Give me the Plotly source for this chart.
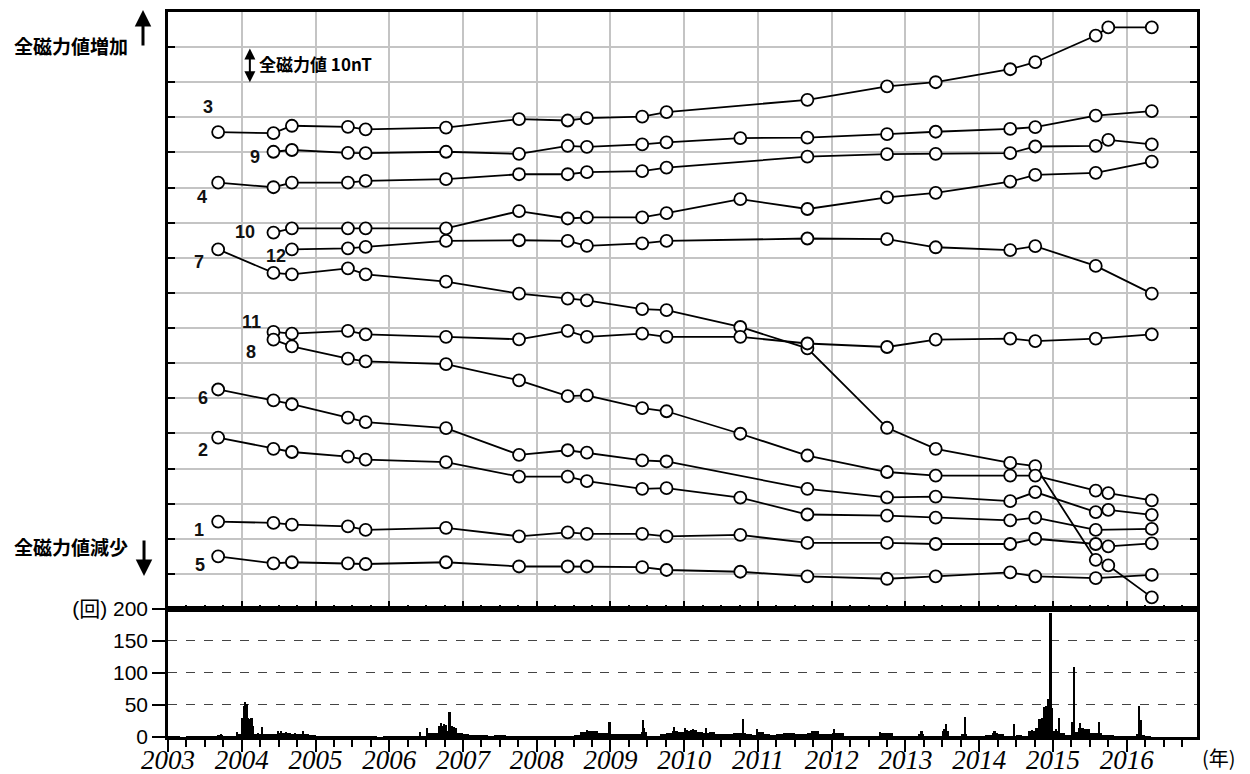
import plotly.graph_objects as go

# ---------------- data ----------------
# survey epochs (decimal years)
DATES = [2003.68, 2004.43, 2004.68, 2005.44, 2005.68, 2006.77, 2007.76, 2008.42, 2008.68,
         2009.43, 2009.76, 2010.76, 2011.67, 2012.75, 2013.41, 2014.42, 2014.76, 2015.58,
         2015.75, 2016.34]

# relative total magnetic intensity (nT, arbitrary offset) per station; None = not observed
S3 = [135.8, 135.5, 137.6, 137.3, 136.6, 137.1, 139.5, 139.1, 139.8, 140.2, 141.5, None, 145.0, 148.8, 150.0, 153.7, 155.7, 163.3, 165.6, 165.6]
S9 = [None, 130.2, 130.7, 129.9, 129.8, 130.2, 129.6, 131.9, 131.6, 132.3, 132.9, 134.1, 134.2, 135.2, 135.9, 136.7, 137.2, 140.5, None, 141.8]
S4 = [121.4, 120.1, 121.4, 121.4, 121.9, 122.4, 123.8, 123.8, 124.4, 124.7, 125.7, None, 128.8, 129.5, 129.6, 129.8, 131.7, 131.9, 133.6, 132.3]
S10 = [None, 107.2, 108.4, 108.4, 108.4, 108.4, 113.3, 111.2, 111.5, 111.5, 112.7, 116.7, 113.9, 117.2, 118.5, 121.7, 123.6, 124.2, None, 127.4]
S12 = [None, None, 102.4, 102.7, 103.1, 104.8, 105.0, 104.8, 103.4, 104.1, 104.8, None, 105.5, 105.3, 103.0, 102.2, 103.3, 97.7, None, 89.8]
S7 = [102.4, 95.7, 95.3, 97.0, 95.3, 93.2, 89.8, 88.4, 87.9, 85.4, 85.1, 80.3, 74.2, 51.6, 45.6, 41.6, 40.7, 14.0, 12.4, 3.3]
S11 = [None, 78.9, 78.4, 79.2, 78.2, 77.5, 76.8, 79.2, 77.5, 78.4, 77.5, 77.5, 75.6, 74.6, 76.7, 77.0, 76.3, 77.0, None, 78.2]
S8 = [None, 76.7, 74.8, 71.3, 70.5, 69.7, 65.1, 60.6, 60.8, 57.2, 56.3, 49.9, 43.7, 39.0, 38.0, 38.0, 38.0, 33.7, 33.0, 30.9]
S6 = [62.5, 59.4, 58.3, 54.5, 53.2, 51.5, 43.9, 45.2, 44.5, 42.3, 42.0, None, 34.2, 31.8, 32.0, 30.7, 33.3, 27.6, 28.2, 26.8]
S2 = [48.8, 45.6, 44.7, 43.4, 42.5, 41.8, 37.7, 37.7, 36.4, 34.2, 34.4, 31.7, 26.9, 26.6, 26.0, 25.2, 26.0, 22.5, None, 22.8]
S1 = [24.9, 24.5, 24.0, 23.5, 22.5, 23.1, 20.7, 21.8, 21.4, 21.4, 20.7, 21.1, 18.8, 18.8, 18.5, 18.5, 20.0, 18.5, 17.8, 18.7]
S5 = [15.0, 13.0, 13.3, 13.0, 12.8, 13.3, 12.1, 12.1, 12.1, 11.9, 11.1, 10.6, 9.3, 8.6, 9.3, 10.4, 9.3, 8.8, None, 9.7]

SERIES_NAMES = ["3", "9", "4", "10", "12", "7", "11", "8", "6", "2", "1", "5"]

# earthquake counts: monthly background level per year
BG_2003 = [1, 1, 0, 1, 1, 2, 1, 2, 3, 2, 2, 4]
BG_2004 = [25, 10, 5, 5, 4, 5, 7, 6, 5, 4, 5, 3]
BG_2005 = [2, 2, 2, 1, 1, 1, 1, 1, 1, 1, 0, 1]
BG_2006 = [1, 1, 1, 1, 1, 2, 6, 6, 18, 10, 14, 6]
BG_2007 = [4, 3, 3, 3, 2, 3, 3, 2, 2, 2, 2, 2]
BG_2008 = [1, 2, 2, 1, 1, 2, 3, 8, 10, 9, 7, 6]
BG_2009 = [5, 5, 5, 5, 5, 8, 2, 2, 4, 6, 10, 8]
BG_2010 = [10, 11, 8, 6, 8, 5, 5, 5, 6, 6, 4, 3]
BG_2011 = [8, 4, 3, 5, 6, 6, 5, 5, 7, 9, 4, 4]
BG_2012 = [7, 6, 2, 1, 1, 1, 1, 1, 6, 6, 2, 1]
BG_2013 = [2, 2, 5, 1, 1, 1, 10, 2, 2, 4, 2, 2]
BG_2014 = [2, 3, 6, 4, 2, 2, 3, 2, 9, 14, 30, 45]
BG_2015 = [10, 6, 3, 8, 14, 12, 6, 6, 3, 3, 2, 1]
BG_2016 = [1, 1, 3, 1, 0, 0, 0, 0, 0, 0, 0, 0]

# individual daily peaks
SPIKE_YEARS = [2003.72, 2003.94, 2004.01, 2004.03, 2004.05, 2004.07, 2004.09, 2004.11, 2004.135,
               2004.16, 2004.22, 2004.28, 2004.49, 2004.54, 2004.60, 2004.72, 2004.83,
               2006.42, 2006.51, 2006.71, 2006.74, 2006.77, 2006.82, 2006.85, 2006.88,
               2008.68, 2008.99, 2009.44, 2009.46, 2009.87, 2010.01, 2010.04, 2010.12, 2010.30,
               2010.80, 2010.99, 2011.73, 2012.04, 2012.655, 2013.22, 2013.53, 2013.55, 2013.81,
               2014.21, 2014.48, 2014.72, 2014.77, 2014.82, 2014.85, 2014.88, 2014.91, 2014.94,
               2014.96, 2014.97, 2014.99, 2015.02, 2015.04, 2015.08, 2015.26, 2015.285, 2015.37,
               2015.40, 2015.45, 2015.63, 2016.15, 2016.17, 2016.19]
SPIKE_COUNTS = [5, 8, 30, 48, 55, 51, 30, 28, 30,
                18, 6, 16, 10, 10, 8, 7, 9,
                8, 14, 22, 20, 19, 39, 17, 15,
                11, 24, 27, 14, 16, 14, 11, 13, 14,
                28, 13, 10, 13, 8, 9, 13, 20, 31,
                9, 20, 11, 13, 28, 16, 47, 48, 60,
                63, 194, 32, 10, 13, 29, 24, 109, 22,
                12, 12, 24, 5, 48, 26]

YEARS = list(range(2003, 2017))
YEAR_LABELS = [str(y) for y in YEARS]
COUNT_TICKS = [0, 50, 100, 150, 200]
COUNT_LABELS = ["0", "50", "100", "150", "(回) 200"]

# ---------------- figure ----------------
series_list = [S3, S9, S4, S10, S12, S7, S11, S8, S6, S2, S1, S5]
fig = go.Figure()

for name, vals in zip(SERIES_NAMES, series_list):
    fig.add_trace(go.Scatter(
        x=DATES, y=vals, mode="lines+markers", connectgaps=True, name=name,
        line=dict(color="black", width=1.8),
        marker=dict(symbol="circle", size=12, color="white",
                    line=dict(color="black", width=1.8)),
        xaxis="x", yaxis="y", showlegend=False))

bg_all = (BG_2003 + BG_2004 + BG_2005 + BG_2006 + BG_2007 + BG_2008 + BG_2009 +
          BG_2010 + BG_2011 + BG_2012 + BG_2013 + BG_2014 + BG_2015 + BG_2016)
month_x = [2003 + (i + 0.5) / 12 for i in range(len(bg_all))]
fig.add_trace(go.Bar(x=month_x, y=bg_all, width=1 / 12,
                     marker=dict(color="black", line=dict(width=0)),
                     xaxis="x2", yaxis="y2", showlegend=False))
fig.add_trace(go.Bar(x=SPIKE_YEARS, y=SPIKE_COUNTS, width=0.022,
                     marker=dict(color="black", line=dict(width=0)),
                     xaxis="x2", yaxis="y2", showlegend=False))

XR = [2003, 2016.953]
split = 0.1766
grid_c = "#c4c4c4"

fig.update_layout(
    template="none",
    width=1250, height=774,
    margin=dict(l=168, r=53, t=12, b=37, pad=0),
    paper_bgcolor="white", plot_bgcolor="white",
    barmode="overlay", bargap=0,
    font=dict(family="Liberation Sans, Noto Sans CJK JP", color="black"),
    xaxis=dict(domain=[0, 1], range=XR, anchor="y", tickmode="array", tickvals=YEARS,
               showticklabels=False, ticks="inside", ticklen=8, tickwidth=2, tickcolor="black",
               showgrid=True, gridcolor=grid_c, gridwidth=1.5, automargin=False,
               showline=True, linecolor="black", linewidth=3, mirror=True, zeroline=False,
               minor=dict(tickmode="linear", tick0=2003, dtick=0.25, ticks="inside",
                          ticklen=4, tickwidth=2, tickcolor="black", showgrid=False)),
    yaxis=dict(domain=[split, 1], range=[0, 170], anchor="x", tickmode="linear", tick0=0,
               dtick=10, showticklabels=False, ticks="inside", ticklen=7, tickwidth=2,
               tickcolor="black", showgrid=True, gridcolor=grid_c, gridwidth=1.5,
               automargin=False,
               showline=True, linecolor="black", linewidth=3, mirror="ticks", zeroline=False),
    xaxis2=dict(domain=[0, 1], range=XR, anchor="y2", tickmode="array", tickvals=YEARS,
                ticktext=YEAR_LABELS, ticks="outside", ticklen=12, tickwidth=2,
                tickcolor="black", automargin=False, ticklabelstandoff=-15,
                tickfont=dict(family="Liberation Serif", size=27, style="italic", color="black"),
                showgrid=False, showline=True, linecolor="black", linewidth=2.5, mirror=True,
                zeroline=False,
                minor=dict(tickmode="linear", tick0=2003, dtick=0.25, ticks="outside",
                           ticklen=7, tickwidth=1.5, tickcolor="black", showgrid=False)),
    yaxis2=dict(domain=[0, split], range=[0, 200], anchor="x2", tickmode="array",
                tickvals=COUNT_TICKS, ticktext=COUNT_LABELS, ticks="outside", ticklen=13,
                tickwidth=2, tickcolor="black", automargin=False,
                tickfont=dict(family="Liberation Sans, Noto Sans CJK JP", size=21, color="black"),
                showgrid=True, gridcolor="#444444", griddash="dash", gridwidth=1.3,
                showline=True, linecolor="black", linewidth=2.5, mirror=True, zeroline=False),
)

# station labels
label_pos = {"3": (2003.54, 143.0), "9": (2004.18, 128.7), "4": (2003.46, 117.3),
             "10": (2004.04, 107.4), "12": (2004.46, 100.5), "7": (2003.42, 98.8),
             "11": (2004.13, 81.7), "8": (2004.13, 73.1), "6": (2003.47, 60.0),
             "2": (2003.47, 45.4), "1": (2003.42, 22.6), "5": (2003.43, 12.6)}
for name in SERIES_NAMES:
    lx, ly = label_pos[name]
    fig.add_annotation(x=lx, y=ly, xref="x", yref="y", text="<b>" + name + "</b>",
                       showarrow=False,
                       font=dict(family="Liberation Sans", size=18, color="#111111"))

jp = "Noto Sans CJK JP"
fig.add_annotation(x=-0.1516, y=0.9752, xref="paper", yref="paper", xanchor="left",
                   text="<b>全磁力値増加</b>", showarrow=False,
                   font=dict(family=jp, size=19, color="black"))
fig.add_annotation(x=-0.1516, y=0.242, xref="paper", yref="paper", xanchor="left",
                   text="<b>全磁力値減少</b>", showarrow=False,
                   font=dict(family=jp, size=19, color="black"))
# up / down arrows
fig.add_annotation(x=-0.0243, y=1.0028, xref="paper", yref="paper", ax=0, ay=37,
                   text="", showarrow=True, arrowhead=2, arrowsize=1.1, arrowwidth=3,
                   arrowcolor="black")
fig.add_annotation(x=-0.0233, y=0.222, xref="paper", yref="paper", ax=0, ay=-37,
                   text="", showarrow=True, arrowhead=2, arrowsize=1.1, arrowwidth=3,
                   arrowcolor="black")
# scale bar 10 nT
fig.add_annotation(x=2004.11, y=150, xref="x", yref="y", ax=2004.11, ay=160,
                   axref="x", ayref="y", text="", showarrow=True, arrowhead=2,
                   startarrowhead=2, arrowside="end+start", arrowsize=1.1,
                   startarrowsize=1.1, arrowwidth=2, arrowcolor="black")
fig.add_annotation(x=2004.2, y=155.4, xref="x", yref="y", xanchor="left",
                   text="<b>全磁力値 10nT</b>", showarrow=False,
                   font=dict(family=jp, size=17, color="black"))
# year unit
fig.add_annotation(x=1.003, y=-0.0276, xref="paper", yref="paper", xanchor="left",
                   yanchor="middle", text="(年)", showarrow=False,
                   font=dict(family=jp, size=20, color="black"))

fig.write_html("out.html", config={"displayModeBar": False},
               post_script="document.body.style.margin='0';")
